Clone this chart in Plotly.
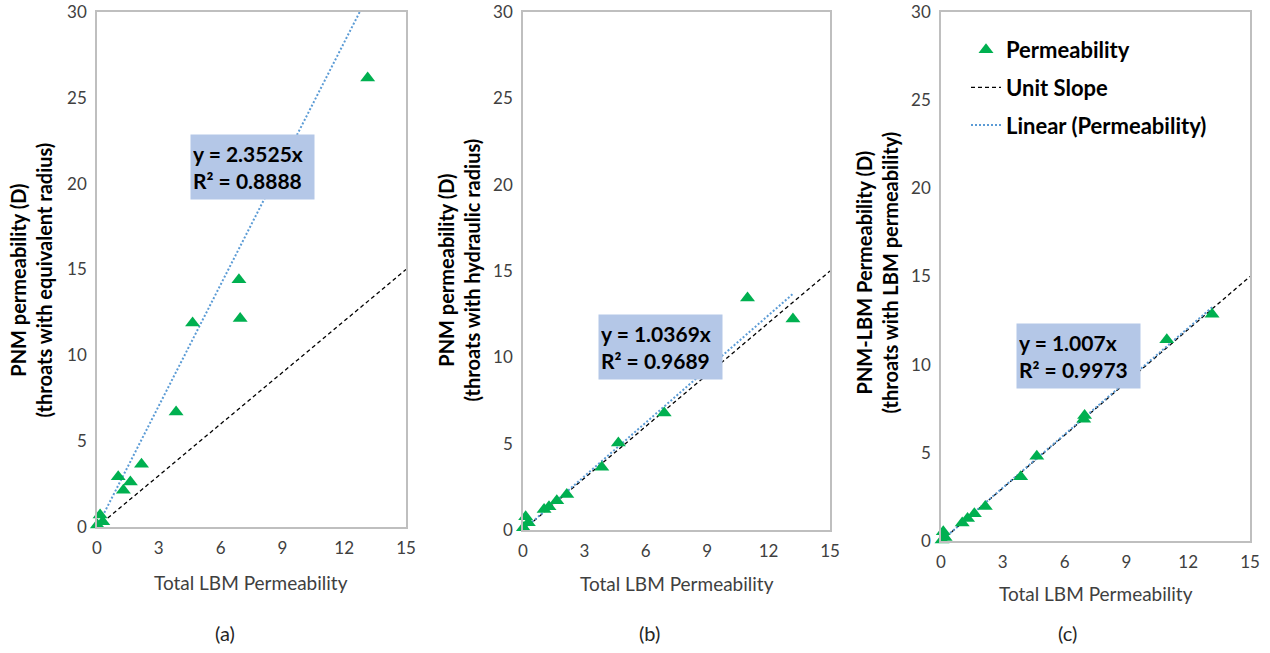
import plotly.graph_objects as go

# ---------------- data ----------------
# (a) PNM permeability, throats with equivalent radius
lbm_a = [0.02, 0.15, 0.28, 1.03, 1.28, 1.62, 2.16, 3.84, 4.64, 6.89, 6.95, 13.14]
pnm_a = [0.12, 0.70, 0.31, 2.92, 2.14, 2.62, 3.65, 6.70, 11.88, 14.40, 12.15, 26.15]
# (b) PNM permeability, throats with hydraulic radius
lbm_b = [0.02, 0.13, 0.26, 1.03, 1.27, 1.65, 2.14, 3.85, 4.66, 6.90, 10.97, 13.19]
pnm_b = [0.13, 0.77, 0.42, 1.19, 1.35, 1.69, 2.06, 3.64, 5.04, 6.77, 13.43, 12.22]
# (c) PNM-LBM permeability, throats with LBM permeability
lbm_c = [0.05, 0.11, 0.20, 1.03, 1.29, 1.62, 2.15, 3.87, 4.65, 6.93, 6.97, 10.96, 13.16]
pnm_c = [0.05, 0.52, 0.20, 1.02, 1.27, 1.55, 1.96, 3.64, 4.81, 6.90, 7.12, 11.42, 12.86]

fit_slope = [2.3525, 1.0369, 1.007]
fit_r2 = [0.8888, 0.9689, 0.9973]

unit_x = [0, 15]
unit_y = [0, 15]

x_ticks = [0, 3, 6, 9, 12, 15]
y_ticks = [0, 5, 10, 15, 20, 25, 30]

y_title_1 = ["PNM permeability (D)", "PNM permeability (D)", "PNM-LBM Permeability (D)"]
y_title_2 = ["(throats with equivalent radius)", "(throats with hydraulic radius)",
             "(throats with LBM permeability)"]
x_title = "Total LBM Permeability"
panel_labels = ["(a)", "(b)", "(c)"]

# ---------------- layout geometry ----------------
W, H = 1270, 653
FONT = "Lato"
GREEN = "#00b050"
BLUE = "#5b9bd5"
BOXC = "#b4c7e7"

# plot areas in pixels: (left, right, top, bottom)
areas = [(97, 406, 12, 527), (523, 830, 12, 530), (941, 1250, 12, 541)]
# annotation box centres in data coords
box_centres = [(7.57, 21.0), (6.74, 10.59), (6.67, 10.48)]
ytitle_cx = [30.5, 458.5, 876.5]
ytitle_cy = [280, 270, 273]
xtitle_cy = [582, 583, 593]
label_cx = [225, 649, 1067]

fig = go.Figure()
series = [(lbm_a, pnm_a), (lbm_b, pnm_b), (lbm_c, pnm_c)]

annotations = []
for i, (xs, ys) in enumerate(series):
    xa = "x" if i == 0 else f"x{i+1}"
    ya = "y" if i == 0 else f"y{i+1}"
    legend_on = (i == 2)
    # unit slope
    fig.add_trace(go.Scatter(
        x=unit_x, y=unit_y, mode="lines", name="Unit Slope",
        line=dict(color="black", width=1.3, dash="4px,3px"),
        xaxis=xa, yaxis=ya, showlegend=legend_on, legendgroup="g2",
        legendrank=2, hoverinfo="skip"))
    # linear trendline
    xmax = max(xs)
    fig.add_trace(go.Scatter(
        x=[0, xmax], y=[0, fit_slope[i] * xmax], mode="lines",
        name="Linear (Permeability)",
        line=dict(color=BLUE, width=2, dash="2px,2px"),
        xaxis=xa, yaxis=ya, showlegend=legend_on, legendgroup="g3",
        legendrank=3, hoverinfo="skip"))
    # points
    fig.add_trace(go.Scatter(
        x=xs, y=ys, mode="markers", name="Permeability",
        marker=dict(symbol="triangle-up", size=13, color=GREEN),
        xaxis=xa, yaxis=ya, showlegend=legend_on, legendgroup="g1",
        legendrank=1, cliponaxis=False))

    l, r, t, b = areas[i]
    ax_common = dict(showgrid=False, zeroline=False, showline=True, mirror=True,
                     linecolor="#bfbfbf", linewidth=1.5, ticks="outside",
                     ticklen=5, tickcolor="rgba(0,0,0,0)",
                     ticklabeloverflow="allow", automargin=False,
                     tickfont=dict(family=FONT, size=17, color="#404040"))
    fig.layout[("xaxis" if i == 0 else f"xaxis{i+1}")] = dict(
        domain=[l / W, r / W], range=[0, 15], tickvals=x_ticks,
        anchor=ya, **ax_common)
    fig.layout[("yaxis" if i == 0 else f"yaxis{i+1}")] = dict(
        domain=[1 - b / H, 1 - t / H], range=[0, 30], tickvals=y_ticks,
        anchor=xa, **ax_common)

    # fit annotation box
    cx, cy = box_centres[i]
    annotations.append(dict(
        x=cx, y=cy, xref=xa, yref=ya, showarrow=False,
        xanchor="center", yanchor="middle",
        text=f"y = {fit_slope[i]}x<br>R² = {fit_r2[i]}",
        font=dict(family=FONT, size=21, color="black", weight="bold"),
        bgcolor=BOXC, width=119, height=60, align="left", borderpad=2))
    # y title
    annotations.append(dict(
        x=ytitle_cx[i] / W, y=1 - ytitle_cy[i] / H, xref="paper", yref="paper",
        xanchor="center", yanchor="middle",
        showarrow=False, textangle=-90,
        text=f"<b>{y_title_1[i]}</b><br><b>{y_title_2[i]}</b>",
        font=dict(family=FONT, size=20, color="black")))
    # x title
    annotations.append(dict(
        x=(l + r) / 2 / W, y=1 - xtitle_cy[i] / H, xref="paper", yref="paper",
        xanchor="center", yanchor="middle",
        showarrow=False, text=x_title,
        font=dict(family=FONT, size=19, color="#404040")))
    # panel label
    annotations.append(dict(
        x=label_cx[i] / W, y=1 - 633 / H, xref="paper", yref="paper",
        xanchor="center", yanchor="middle",
        showarrow=False, text=panel_labels[i],
        font=dict(family=FONT, size=20, color="#262626")))

fig.update_layout(
    width=W, height=H,
    margin=dict(l=0, r=0, t=0, b=0, autoexpand=False),
    paper_bgcolor="white", plot_bgcolor="white",
    annotations=annotations,
    showlegend=True,
    legend=dict(x=966 / W, y=1 - 29 / H, xanchor="left", yanchor="top",
                bgcolor="rgba(0,0,0,0)", itemwidth=30, tracegroupgap=6,
                traceorder="grouped",
                font=dict(family=FONT, size=22, color="black", weight="bold")),
)

fig.write_html("out.html")
